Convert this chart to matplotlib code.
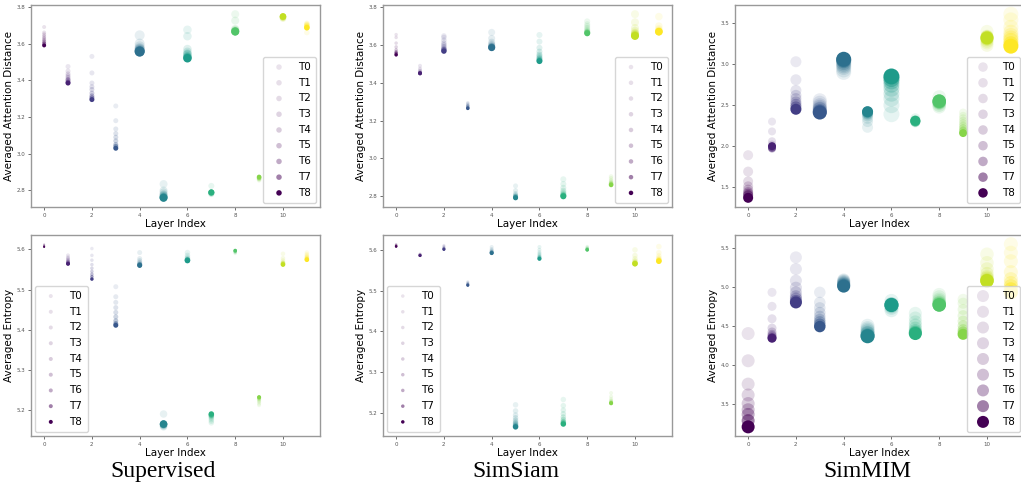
import matplotlib.pyplot as plt
import numpy as np

layers = list(range(12))
t_labels = ['T0', 'T1', 'T2', 'T3', 'T4', 'T5', 'T6', 'T7', 'T8']
col_titles = ['Supervised', 'SimSiam', 'SimMIM']

# one row per layer, columns T0..T8
dist_sup = [
    [3.69, 3.66, 3.65, 3.64, 3.63, 3.62, 3.61, 3.60, 3.59],
    [3.475, 3.45, 3.435, 3.425, 3.415, 3.405, 3.40, 3.39, 3.385],
    [3.53, 3.44, 3.385, 3.365, 3.35, 3.33, 3.315, 3.305, 3.295],
    [3.26, 3.18, 3.135, 3.11, 3.09, 3.07, 3.05, 3.04, 3.03],
    [3.645, 3.60, 3.585, 3.575, 3.57, 3.565, 3.56, 3.558, 3.556],
    [2.835, 2.80, 2.79, 2.78, 2.775, 2.77, 2.765, 2.762, 2.76],
    [3.675, 3.64, 3.57, 3.555, 3.545, 3.54, 3.53, 3.525, 3.52],
    [2.825, 2.78, 2.783, 2.785, 2.787, 2.788, 2.789, 2.789, 2.79],
    [3.76, 3.725, 3.68, 3.675, 3.67, 3.668, 3.667, 3.666, 3.665],
    [2.855, 2.86, 2.862, 2.865, 2.867, 2.868, 2.870, 2.872, 2.874],
    [3.735, 3.738, 3.74, 3.742, 3.744, 3.745, 3.746, 3.747, 3.748],
    [3.66, 3.70, 3.71, 3.705, 3.70, 3.695, 3.69, 3.688, 3.686],
]
dist_siam = [
    [3.655, 3.64, 3.61, 3.59, 3.575, 3.565, 3.56, 3.555, 3.548],
    [3.49, 3.475, 3.465, 3.46, 3.455, 3.453, 3.452, 3.451, 3.45],
    [3.648, 3.64, 3.625, 3.61, 3.60, 3.59, 3.58, 3.575, 3.568],
    [3.295, 3.29, 3.285, 3.28, 3.278, 3.275, 3.27, 3.267, 3.265],
    [3.667, 3.635, 3.615, 3.605, 3.598, 3.593, 3.59, 3.588, 3.586],
    [2.855, 2.83, 2.815, 2.808, 2.803, 2.80, 2.797, 2.794, 2.792],
    [3.653, 3.618, 3.585, 3.565, 3.55, 3.54, 3.53, 3.522, 3.515],
    [2.89, 2.865, 2.845, 2.83, 2.82, 2.812, 2.806, 2.803, 2.80],
    [3.725, 3.71, 3.70, 3.69, 3.68, 3.672, 3.668, 3.665, 3.662],
    [2.905, 2.895, 2.885, 2.877, 2.872, 2.868, 2.865, 2.862, 2.86],
    [3.763, 3.72, 3.69, 3.675, 3.665, 3.66, 3.655, 3.651, 3.648],
    [3.75, 3.70, 3.685, 3.678, 3.674, 3.672, 3.671, 3.670, 3.67],
]
dist_mim = [
    [1.89, 1.69, 1.57, 1.51, 1.47, 1.44, 1.42, 1.40, 1.37],
    [2.30, 2.18, 2.06, 2.02, 1.99, 1.98, 1.97, 1.98, 2.00],
    [3.03, 2.81, 2.68, 2.62, 2.58, 2.54, 2.51, 2.48, 2.45],
    [2.56, 2.53, 2.50, 2.48, 2.46, 2.45, 2.43, 2.42, 2.41],
    [2.90, 2.93, 2.96, 2.98, 3.00, 3.02, 3.04, 3.05, 3.06],
    [2.23, 2.30, 2.34, 2.37, 2.39, 2.40, 2.41, 2.42, 2.42],
    [2.39, 2.50, 2.58, 2.64, 2.70, 2.75, 2.79, 2.82, 2.85],
    [2.34, 2.32, 2.29, 2.30, 2.31, 2.30, 2.31, 2.30, 2.31],
    [2.60, 2.48, 2.52, 2.50, 2.54, 2.53, 2.55, 2.54, 2.55],
    [2.41, 2.37, 2.34, 2.31, 2.28, 2.25, 2.22, 2.19, 2.16],
    [3.40, 3.23, 3.26, 3.28, 3.30, 3.34, 3.31, 3.33, 3.32],
    [3.61, 3.54, 3.45, 3.39, 3.35, 3.32, 3.29, 3.25, 3.22],
]
ent_sup = [
    [5.613, 5.612, 5.611, 5.610, 5.609, 5.608, 5.607, 5.607, 5.606],
    [5.585, 5.58, 5.577, 5.574, 5.571, 5.569, 5.567, 5.565, 5.564],
    [5.602, 5.585, 5.573, 5.562, 5.553, 5.545, 5.538, 5.532, 5.526],
    [5.507, 5.482, 5.468, 5.455, 5.443, 5.432, 5.422, 5.415, 5.411],
    [5.592, 5.577, 5.572, 5.568, 5.565, 5.563, 5.562, 5.561, 5.56],
    [5.19, 5.158, 5.16, 5.162, 5.163, 5.164, 5.165, 5.165, 5.165],
    [5.592, 5.585, 5.58, 5.577, 5.575, 5.574, 5.573, 5.573, 5.572],
    [5.168, 5.172, 5.176, 5.18, 5.183, 5.185, 5.187, 5.188, 5.19],
    [5.59, 5.592, 5.593, 5.594, 5.595, 5.596, 5.596, 5.597, 5.597],
    [5.212, 5.216, 5.22, 5.223, 5.226, 5.228, 5.23, 5.231, 5.232],
    [5.589, 5.578, 5.572, 5.568, 5.566, 5.565, 5.564, 5.563, 5.562],
    [5.592, 5.588, 5.585, 5.582, 5.58, 5.578, 5.576, 5.575, 5.574],
]
ent_siam = [
    [5.614, 5.613, 5.612, 5.611, 5.610, 5.610, 5.609, 5.609, 5.608],
    [5.59, 5.589, 5.588, 5.588, 5.587, 5.587, 5.586, 5.586, 5.586],
    [5.611, 5.609, 5.607, 5.605, 5.604, 5.603, 5.602, 5.602, 5.601],
    [5.522, 5.52, 5.518, 5.517, 5.516, 5.515, 5.514, 5.514, 5.513],
    [5.607, 5.602, 5.599, 5.597, 5.595, 5.594, 5.593, 5.593, 5.592],
    [5.22, 5.205, 5.195, 5.188, 5.182, 5.177, 5.173, 5.169, 5.166],
    [5.607, 5.60, 5.594, 5.59, 5.586, 5.583, 5.581, 5.579, 5.578],
    [5.233, 5.218, 5.207, 5.198, 5.19, 5.184, 5.179, 5.176, 5.173],
    [5.608, 5.606, 5.604, 5.603, 5.602, 5.601, 5.601, 5.60, 5.60],
    [5.249, 5.24, 5.234, 5.23, 5.228, 5.226, 5.225, 5.224, 5.224],
    [5.60, 5.586, 5.578, 5.573, 5.57, 5.568, 5.567, 5.566, 5.566],
    [5.608, 5.593, 5.585, 5.58, 5.577, 5.575, 5.574, 5.573, 5.572],
]
ent_mim = [
    [4.40, 4.05, 3.75, 3.61, 3.50, 3.42, 3.36, 3.28, 3.20],
    [4.93, 4.75, 4.59, 4.47, 4.42, 4.39, 4.37, 4.35, 4.34],
    [5.38, 5.23, 5.08, 4.99, 4.93, 4.88, 4.85, 4.82, 4.80],
    [4.93, 4.80, 4.73, 4.67, 4.62, 4.58, 4.55, 4.52, 4.49],
    [5.09, 5.08, 5.07, 5.06, 5.05, 5.04, 5.03, 5.02, 5.01],
    [4.50, 4.47, 4.45, 4.43, 4.41, 4.40, 4.38, 4.37, 4.365],
    [4.82, 4.70, 4.73, 4.75, 4.78, 4.76, 4.77, 4.77, 4.767],
    [4.66, 4.60, 4.55, 4.51, 4.47, 4.44, 4.42, 4.41, 4.40],
    [4.90, 4.87, 4.84, 4.82, 4.80, 4.79, 4.78, 4.77, 4.767],
    [4.84, 4.79, 4.71, 4.63, 4.56, 4.50, 4.45, 4.42, 4.39],
    [5.42, 5.31, 5.23, 5.17, 5.13, 5.11, 5.09, 5.08, 5.078],
    [5.55, 5.44, 5.33, 5.19, 5.10, 5.05, 5.01, 4.97, 4.93],
]

# marker diameter (pixels) per layer, and for the legend
diam_dist_sup = [4, 5, 5, 5, 10, 8, 8.5, 6, 8, 4.5, 6.5, 5.5]
diam_dist_siam = [3.5, 4, 5.5, 3.5, 7, 5, 6, 6, 6, 4.5, 8, 7.5]
diam_dist_mim = [10, 8, 11, 14, 15, 11, 16, 10, 13.5, 8, 13, 15]
diam_ent_sup = [2, 4, 3.5, 5, 5, 7.5, 5.5, 5.5, 3.5, 4, 4.5, 4.5]
diam_ent_siam = [2.5, 3, 3, 3, 4, 5.5, 4, 5.5, 3.5, 4, 5.5, 5.5]
diam_ent_mim = [13, 9, 12, 11.5, 13, 14, 14, 13, 13.5, 11, 13.5, 14]
legend_diam = [[5.5, 4.5, 9.5], [4.0, 3.5, 12.0]]

alphas = [1/9, 1/8, 1/7, 1/6, 1/5, 1/4, 1/3, 1/2, 1.0]

panels = [
    [(dist_sup, diam_dist_sup), (dist_siam, diam_dist_siam), (dist_mim, diam_dist_mim)],
    [(ent_sup, diam_ent_sup), (ent_siam, diam_ent_siam), (ent_mim, diam_ent_mim)],
]
ylabels = ['Averaged Attention Distance', 'Averaged Entropy']
legend_locs = [['lower right', 'lower right', 'lower right'],
               ['lower left', 'lower left', 'lower right']]

fig = plt.figure(figsize=(10.21, 4.82), dpi=100)
lefts = [31, 383, 735]
width = 289
rows = [(5, 207), (235, 436)]  # top, bottom in pixels

def px2pt(d):
    return (d * 0.72) ** 2

for r in range(2):
    for c in range(3):
        top, bot = rows[r]
        ax = fig.add_axes([lefts[c] / 1021, (482 - bot) / 482, width / 1021, (bot - top) / 482])
        vals = np.array(panels[r][c][0])
        sizes = [px2pt(d) for d in panels[r][c][1]]
        for k in range(9):
            ax.scatter(layers, vals[:, k], c=layers, cmap='viridis', vmin=0, vmax=11,
                       s=sizes, alpha=alphas[k], linewidths=0, label=t_labels[k])
        ax.set_xticks([0, 2, 4, 6, 8, 10])
        ax.tick_params(labelsize=4, length=2, width=0.6, colors='#555555', pad=2)
        for sp in ax.spines.values():
            sp.set_color('#999999')
            sp.set_linewidth(1.0)
        ax.set_xlabel('Layer Index', fontsize=7.5, labelpad=1)
        ax.set_ylabel(ylabels[r], fontsize=7.5, labelpad=2)
        leg = ax.legend(loc=legend_locs[r][c], fontsize=7.5, borderaxespad=0.4,
                        labelspacing=0.55, handletextpad=0.8, borderpad=0.5)
        for h in leg.legend_handles:
            h.set_sizes([px2pt(legend_diam[r][c])])

# method names under each column
for c in range(3):
    xc = (lefts[c] + width / 2 - 12) / 1021
    fig.text(xc, 0.022, col_titles[c], ha='center', va='center',
             fontsize=17, family='Liberation Serif')

fig.savefig('out.png', dpi=100)
